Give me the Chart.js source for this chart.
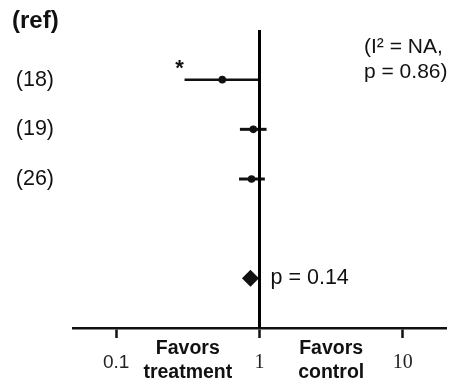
<!DOCTYPE html>
<html>
<head>
<meta charset="utf-8">
<script src="https://cdn.jsdelivr.net/npm/chart.js@4/dist/chart.umd.min.js"></script>
<style>
  html, body { margin: 0; padding: 0; background: #fff; }
  #wrap { width: 456px; height: 382px; position: relative; }
</style>
</head>
<body>
<div id="wrap"><canvas id="c" width="456" height="382"></canvas></div>
<script>
// ---- data ----
const studyLabels = ["(18)", "(19)", "(26)"];
const oddsRatios  = [0.55, 0.905, 0.88];
const ciLower     = [0.30, 0.73, 0.72];
const ciUpper     = [1.0, 1.12, 1.09];
const significant = [true, false, false];
const pooledOR    = 0.865;
const pooledRow   = 4;
const pooledText  = "p = 0.14";
const heterogeneityText = ["(I\u00B2 = NA,", "p = 0.86)"];
const xTickValues = [0.1, 1, 10];
const xTickLabels = ["0.1", "1", "10"];
const favorLabels = [["Favors", "treatment"], ["Favors", "control"]];
const favorPositions = [Math.sqrt(0.1), Math.sqrt(10)];
const panelLabel = "(ref)";
const nullValue = 1;
const xRange = [0.05, 20];
const yRange = [-1, 5];

const SANS = "'Liberation Sans', Arial, sans-serif";
const SERIF = "'Liberation Serif', serif";

const datasets = [];
// reference line at OR = 1
datasets.push({
  type: 'line',
  data: [{x: nullValue, y: yRange[0]}, {x: nullValue, y: yRange[1]}],
  borderColor: '#000', borderWidth: 3, pointRadius: 0, clip: false
});
// confidence intervals
studyLabels.forEach((lab, i) => {
  datasets.push({
    type: 'line',
    data: [{x: ciLower[i], y: i}, {x: ciUpper[i], y: i}],
    borderColor: '#111', borderWidth: i === 0 ? 2.5 : 3, pointRadius: 0
  });
});
// point estimates
datasets.push({
  type: 'scatter',
  data: oddsRatios.map((v, i) => ({x: v, y: i})),
  backgroundColor: '#111', borderColor: '#111', pointRadius: 3.8, borderWidth: 0
});
// pooled diamond
datasets.push({
  type: 'scatter',
  data: [{x: pooledOR, y: pooledRow}],
  pointStyle: 'rectRot', pointRadius: 8.5,
  backgroundColor: '#111', borderColor: '#111', borderWidth: 0
});

const textPlugin = {
  id: 'texts',
  afterDraw(chart) {
    const ctx = chart.ctx;
    const xs = chart.scales.x, ys = chart.scales.y;
    ctx.save();
    ctx.fillStyle = '#111';
    // panel label
    ctx.font = 'bold 24px ' + SANS;
    ctx.textAlign = 'left'; ctx.textBaseline = 'middle';
    ctx.fillText(panelLabel, 12, 21);
    // heterogeneity
    ctx.font = '21px ' + SANS;
    heterogeneityText.forEach((t, k) => ctx.fillText(t, 364, 47 + k * 25));
    // pooled p
    ctx.font = '21.5px ' + SANS;
    ctx.fillText(pooledText, xs.getPixelForValue(nullValue) + 11, ys.getPixelForValue(pooledRow));
    // asterisks
    ctx.font = 'bold 22px ' + SANS;
    ctx.textAlign = 'center';
    significant.forEach((s, i) => {
      if (s) ctx.fillText('*', xs.getPixelForValue(ciLower[i]) - 5, ys.getPixelForValue(i) - 11);
    });
    // favors labels
    ctx.font = 'bold 19.5px ' + SANS;
    favorLabels.forEach((lines, k) => {
      const px = xs.getPixelForValue(favorPositions[k]);
      lines.forEach((l, j) => ctx.fillText(l, px, 349 + j * 24));
    });
    ctx.restore();
  }
};

new Chart(document.getElementById('c'), {
  data: { datasets },
  options: {
    responsive: false,
    animation: false,
    layout: { padding: { top: 30, right: 10, bottom: 0, left: 0 } },
    plugins: { legend: { display: false }, tooltip: { enabled: false }, title: { display: false } },
    scales: {
      x: {
        type: 'logarithmic',
        min: xRange[0], max: xRange[1],
        afterBuildTicks: (s) => { s.ticks = xTickValues.map(v => ({value: v})); },
        afterFit: (s) => { s.height = 54; },
        border: { display: true, color: '#111', width: 2.5 },
        grid: { display: true, drawOnChartArea: false, drawTicks: true, tickLength: 10, tickWidth: 2.5, tickColor: '#111' },
        ticks: {
          autoSkip: false, maxRotation: 0, padding: 13, color: '#222',
          callback: (v) => { const i = xTickValues.indexOf(v); return i >= 0 ? xTickLabels[i] : ''; },
          font: (c) => (c.index === 0 ? {family: SANS, size: 19} : {family: SERIF, size: 20})
        }
      },
      y: {
        type: 'linear',
        min: yRange[0], max: yRange[1], reverse: true,
        afterBuildTicks: (s) => { s.ticks = studyLabels.map((l, i) => ({value: i})); },
        afterFit: (s) => { s.width = 73; },
        border: { display: false },
        grid: { display: false },
        ticks: {
          autoSkip: false, padding: 11, color: '#111',
          font: { family: SANS, size: 21.5 },
          callback: (v) => (studyLabels[v] !== undefined ? studyLabels[v] : '')
        }
      }
    }
  },
  plugins: [textPlugin]
});
</script>
</body>
</html>
